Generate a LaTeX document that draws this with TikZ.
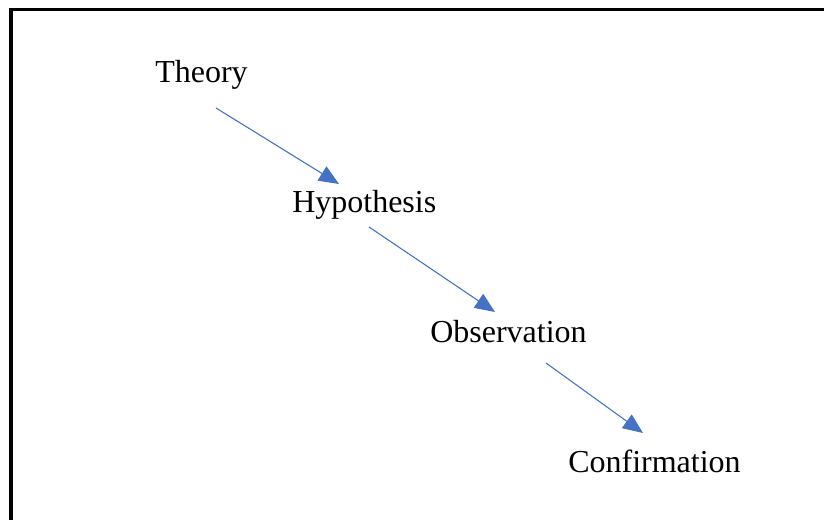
\documentclass[tikz,border=0pt]{standalone}
\usepackage{fontspec}
\setmainfont{Liberation Serif}
\usetikzlibrary{
	arrows.meta,
	positioning
}
\definecolor{linkblue}{HTML}{4472C4}

\begin{document}
\begin{tikzpicture}[
  x=0.75pt, y=-0.75pt,
  paso/.style={anchor=base west, inner sep=0pt, font=\fontsize{24}{28}\selectfont},
  flecha/.style={-{Triangle[length=15pt,width=12.5pt]}, draw=linkblue, fill=linkblue, line width=0.8pt},
  marco/.style={line width=2.4pt, line cap=rect}
]
\useasboundingbox (0,0) rectangle (824,520);
% frame: only top and left edges show
\draw[marco] (11,520) -- (11,9.5) -- (824,9.5);

\node[paso] (theory) at (155,83) {Theory};
\node[paso] (hypothesis) at (292,213) {Hypothesis};
\node[paso] (observation) at (430,342) {Observation};
\node[paso] (confirmation) at (568,472) {Confirmation};

\foreach \nombre/\xa/\ya/\xb/\yb in {
  a/216/108/339/184,
  b/369/227/495/312,
  c/546/363/643/433}
{
  \coordinate (\nombre0) at (\xa,\ya);
  \coordinate (\nombre1) at (\xb,\yb);
  \draw[flecha] (\nombre0) -- (\nombre1);
}
\end{tikzpicture}
\end{document}
